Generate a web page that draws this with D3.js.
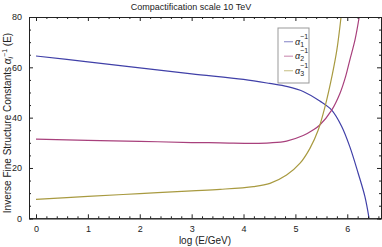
<!DOCTYPE html>
<html>
  <head>
    <meta charset="utf-8">
    <title>Compactification scale 10 TeV</title>
    <style>
      body { margin: 0; background: #fff; }
      text { font-family: "Liberation Sans", Arial, sans-serif; fill: #222; }
    </style>
  </head>
  <body>
    <div id="container"></div>
    <script src="https://d3js.org/d3.v7.min.js"></script>
    <script>

      // DATA
      var logE1 = [0, 1, 2, 3, 4, 4.5, 4.85, 5.15, 5.47, 5.7, 5.89, 6.05, 6.21, 6.34, 6.42];
      var alpha1 = [64.5, 62.2, 59.8, 57.4, 55.2, 53.6, 52.3, 50.4, 46.6, 43, 36.6, 28.4, 17.9, 8.6, 0];

      var logE2 = [0, 1, 2, 3, 3.55, 4.2, 4.51, 4.83, 5.15, 5.34, 5.47, 5.7, 5.86, 5.97, 6.05, 6.15, 6.23];
      var alpha2 = [31.5, 31, 30.6, 30.1, 30, 29.8, 30, 30.7, 32.9, 35.1, 37.1, 43, 49.7, 56.5, 63, 71, 80];

      var logE3 = [0, 1, 2, 3, 3.55, 4.19, 4.51, 4.83, 5.09, 5.28, 5.44, 5.57, 5.71, 5.8, 5.88];
      var alpha3 = [7.5, 8.7, 9.8, 10.9, 11.5, 12.6, 13.9, 17.2, 21.9, 27.8, 35.1, 44.3, 57, 67, 80];

      var xTicks = [0, 1, 2, 3, 4, 5, 6];
      var yTicks = [0, 20, 40, 60, 80];
      var names = ["1", "2", "3"];
      var colors = ["#4040a8", "#a8407c", "#a89a40"];

      var W = 382, H = 247;
      var svg = d3.select("#container").append("svg")
        .attr("width", W).attr("height", H);

      var x = d3.scaleLinear().domain([-0.135, 6.65]).range([29, 381]);
      var y = d3.scaleLinear().domain([0, 80]).range([218.3, 17]);

      // CLIP
      svg.append("clipPath").attr("id", "clip")
        .append("rect").attr("x", 29).attr("y", 17).attr("width", 352).attr("height", 201.3);

      // CURVES
      var series = [
        { xs: logE1, ys: alpha1 },
        { xs: logE2, ys: alpha2 },
        { xs: logE3, ys: alpha3 }
      ];
      var line = d3.line().curve(d3.curveCatmullRom.alpha(0.5))
        .x(d => x(d[0])).y(d => y(d[1]));
      svg.append("g").attr("clip-path", "url(#clip)")
        .selectAll("path").data(series).enter().append("path")
        .attr("d", d => line(d.xs.map((v, i) => [v, d.ys[i]])))
        .attr("fill", "none")
        .attr("stroke", (d, i) => colors[i])
        .attr("stroke-width", 1.2);

      // FRAME + TICKS
      var minorX = d3.range(-0.0, 6.61, 0.2).filter(v => Math.abs(v - Math.round(v)) > 0.01);
      var minorY = d3.range(5, 80, 5).filter(v => v % 20 != 0);

      function styleAxis(g) {
        g.select(".domain").attr("stroke", "#222");
        g.selectAll(".tick line").attr("stroke", "#222");
        g.selectAll(".tick text").attr("font-size", "9px").attr("fill", "#222")
          .attr("font-family", "Liberation Sans, Arial, sans-serif");
      }

      svg.append("g").attr("transform", "translate(0,218.3)")
        .call(d3.axisBottom(x).tickValues(xTicks).tickSize(-4).tickPadding(7).tickFormat(d3.format("d")))
        .call(styleAxis);
      svg.append("g").attr("transform", "translate(0,218.3)")
        .call(d3.axisBottom(x).tickValues(minorX).tickSize(-2).tickFormat(""))
        .call(styleAxis);
      svg.append("g").attr("transform", "translate(0,17)")
        .call(d3.axisTop(x).tickValues(xTicks).tickSize(-4).tickFormat(""))
        .call(styleAxis);
      svg.append("g").attr("transform", "translate(0,17)")
        .call(d3.axisTop(x).tickValues(minorX).tickSize(-2).tickFormat(""))
        .call(styleAxis);

      svg.append("g").attr("transform", "translate(29,0)")
        .call(d3.axisLeft(y).tickValues(yTicks).tickSize(-4).tickPadding(7))
        .call(styleAxis);
      svg.append("g").attr("transform", "translate(29,0)")
        .call(d3.axisLeft(y).tickValues(minorY).tickSize(-2).tickFormat(""))
        .call(styleAxis);
      svg.append("g").attr("transform", "translate(381,0)")
        .call(d3.axisRight(y).tickValues(yTicks).tickSize(-4).tickFormat(""))
        .call(styleAxis);
      svg.append("g").attr("transform", "translate(381,0)")
        .call(d3.axisRight(y).tickValues(minorY).tickSize(-2).tickFormat(""))
        .call(styleAxis);

      // TITLE + AXIS LABELS
      svg.append("text").attr("x", 191).attr("y", 10).attr("text-anchor", "middle")
        .attr("font-size", "9px").text("Compactification scale 10 TeV");

      svg.append("text").attr("x", 205).attr("y", 244).attr("text-anchor", "middle")
        .attr("font-size", "10px").text("log (E/GeV)");

      var yl = svg.append("text").attr("transform", "translate(11,123) rotate(-90)")
        .attr("text-anchor", "middle").attr("font-size", "10px");
      yl.append("tspan").text("Inverse Fine Structure Constants ");
      yl.append("tspan").attr("font-style", "italic").text("α");
      yl.append("tspan").attr("font-size", "7px").attr("dy", 2).attr("font-style", "italic").text("i");
      yl.append("tspan").attr("font-size", "7px").attr("dy", -6).text("−1");
      yl.append("tspan").attr("dy", 4).text(" (E)");

      // LEGEND
      var lg = svg.append("g");
      lg.append("rect").attr("x", 278).attr("y", 28).attr("width", 31).attr("height", 55)
        .attr("fill", "#fff").attr("stroke", "#999").attr("stroke-width", 1);
      names.forEach((n, i) => {
        var cy = 41.7 + i * 14.5;
        lg.append("line").attr("x1", 284).attr("x2", 293).attr("y1", cy).attr("y2", cy)
          .attr("stroke", colors[i]).attr("stroke-opacity", 0.55).attr("stroke-width", 1.2);
        var t = lg.append("text").attr("x", 295).attr("y", cy + 3).attr("font-size", "9px")
          .attr("fill", "#666");
        t.append("tspan").attr("font-style", "italic").text("α");
        t.append("tspan").attr("font-size", "7px").attr("dy", 2).text(n);
        t.append("tspan").attr("font-size", "7px").attr("dx", -4).attr("dy", -8).text("−1");
      });

    </script>
  </body>
</html>
